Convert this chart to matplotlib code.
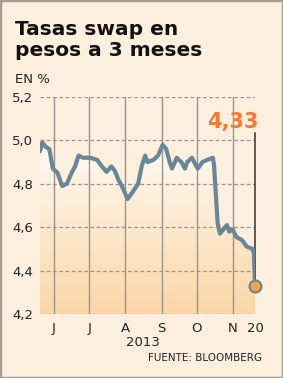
import numpy as np
import matplotlib
matplotlib.use("Agg")
import matplotlib.pyplot as plt
import matplotlib.dates as mdates
from matplotlib.colors import LinearSegmentedColormap
from matplotlib.patches import Rectangle
import datetime as dt

# swap rate readings, 2013
dates = ["05-20", "05-22", "05-25", "05-28", "05-31", "06-04", "06-08", "06-12",
         "06-16", "06-19", "06-22", "06-26", "07-02", "07-08", "07-12", "07-16",
         "07-20", "07-23", "07-26", "07-29", "08-03", "08-07", "08-12", "08-15",
         "08-18", "08-20", "08-25", "08-29", "09-02", "09-05", "09-08", "09-10",
         "09-14", "09-18", "09-21", "09-23", "09-27", "10-02", "10-06", "10-10",
         "10-15", "10-16", "10-19", "10-21", "10-27", "10-29", "11-01", "11-04",
         "11-09", "11-13", "11-18", "11-19", "11-20"]
rates = [4.95, 4.99, 4.97, 4.96, 4.87, 4.85, 4.79, 4.80,
         4.85, 4.88, 4.93, 4.92, 4.92, 4.91, 4.88, 4.855,
         4.88, 4.86, 4.82, 4.79, 4.73, 4.76, 4.80, 4.88,
         4.93, 4.90, 4.91, 4.93, 4.98, 4.96, 4.90, 4.87,
         4.92, 4.90, 4.87, 4.90, 4.92, 4.87, 4.90, 4.91,
         4.92, 4.88, 4.62, 4.57, 4.61, 4.58, 4.59, 4.555,
         4.54, 4.51, 4.50, 4.48, 4.33]
month_ticks = ["06-01", "07-01", "08-01", "09-01", "10-01", "11-01"]
month_labels = ["J", "J", "A", "S", "O", "N"]
yticks = [4.2, 4.4, 4.6, 4.8, 5.0, 5.2]
ylabels = ["4,2", "4,4", "4,6", "4,8", "5,0", "5,2"]
last_label = "4,33"

def d(s):
    return mdates.date2num(dt.datetime.strptime("2013-" + s, "%Y-%m-%d"))

x = np.array([d(s) for s in dates])
y = np.array(rates)

bg = "#fcefde"
line_col = "#6b8697"
grid_col = "#9a948c"

fig = plt.figure(figsize=(2.83, 3.78), dpi=100)
fig.patch.set_facecolor(bg)
fig.patches.append(Rectangle((0, 0), 1, 1, transform=fig.transFigure, fill=False,
                             edgecolor="#ab9d92", linewidth=2.5))

ax = fig.add_axes([40 / 283, 64 / 378, 215 / 283, 217 / 378])
ax.set_facecolor(bg)

# gradient under the line
cmap = LinearSegmentedColormap.from_list("g", ["#fbd6a8", "#fffaf4"])
grad = np.linspace(0, 1, 256).reshape(-1, 1)
im = ax.imshow(grad, extent=[x[0], x[-1], 4.2, 5.0], origin="lower", cmap=cmap,
               aspect="auto", zorder=1)
poly = ax.fill_between(x, y, 4.2, color="none", linewidth=0)
im.set_clip_path(poly.get_paths()[0], transform=ax.transData)

for v in yticks:
    ax.axhline(v, color=grid_col, lw=0.9, ls=(0, (3, 2)), zorder=2)
for m in month_ticks:
    ax.axvline(d(m), color=grid_col, lw=1.0, zorder=2)

ax.plot([x[-1], x[-1]], [y[-1], 5.035], color="#333333", lw=1.1, zorder=2, clip_on=False)
ax.plot(x, y, color=line_col, lw=3.0, solid_joinstyle="round", solid_capstyle="round", zorder=3)
ax.plot(x[-1], y[-1], "o", ms=8.5, mfc="#f6a449", mec=line_col, mew=1.6, zorder=4, clip_on=False)

ax.set_xlim(x[0], x[-1])
ax.set_ylim(4.2, 5.2)
ax.set_yticks(yticks)
ax.set_yticklabels(ylabels)
ax.set_xticks([d(m) for m in month_ticks] + [x[-1]])
ax.set_xticklabels(month_labels + ["20"])
ax.tick_params(length=0, labelsize=9.5, colors="#222222")
ax.tick_params(axis="y", pad=5)
ax.tick_params(axis="x", pad=6)
for s in ax.spines.values():
    s.set_visible(False)

fig.text(15 / 283, 1 - 35 / 378, "Tasas swap en", fontsize=14.5, fontweight="bold",
         color="#111111", va="baseline")
fig.text(15 / 283, 1 - 56 / 378, "pesos a 3 meses", fontsize=14.5, fontweight="bold",
         color="#111111", va="baseline")
fig.text(15 / 283, 1 - 83 / 378, "EN %", fontsize=9.5, color="#222222", va="baseline")
fig.text(258 / 283, 1 - 122 / 378, last_label, fontsize=15, fontweight="bold",
         color="#f27a35", ha="right", va="center")
fig.text(143 / 283, 1 - 342 / 378, "2013", fontsize=9.5, color="#222222", ha="center", va="center")
fig.text(262 / 283, 1 - 358 / 378, "FUENTE: BLOOMBERG", fontsize=7.5, color="#222222",
         ha="right", va="center")

fig.savefig("out.png", dpi=100, facecolor=bg)
